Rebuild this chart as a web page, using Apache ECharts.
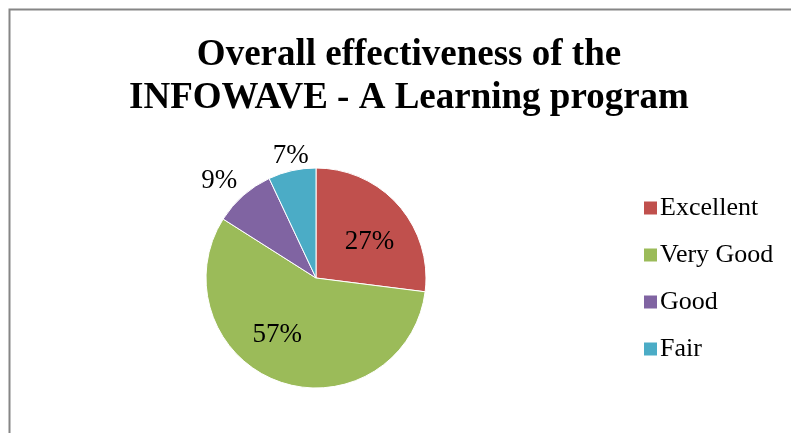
<!DOCTYPE html>
<html><head><meta charset="utf-8">
<script src="https://cdn.jsdelivr.net/npm/echarts@6/dist/echarts.min.js"></script>
<style>html,body{margin:0;padding:0;background:#fff}#c{width:791px;height:433px}</style>
</head><body><div id="c"></div>
<script>
const categories = ['Excellent', 'Very Good', 'Good', 'Fair'];
const values = [27, 57, 9, 7];
const colors = ['#C0504D', '#9BBB59', '#8064A2', '#4BACC6'];
const titleText = 'Overall effectiveness of the\nINFOWAVE - A Learning program';

const chart = echarts.init(document.getElementById('c'), null, {renderer: 'canvas'});
const labelPos = ['inside', 'inside', 'outside', 'outside'];
const labelOffset = [[10, 2], [-19, 2], [3, -10], [23, -9]];
const data = categories.map((name, i) => ({
  name, value: values[i],
  itemStyle: {color: colors[i]},
  label: {position: labelPos[i], offset: labelOffset[i]}
}));
chart.setOption({
  animation: false,
  graphic: [{
    type: 'rect', left: 7, top: 7,
    shape: {width: 820, height: 460},
    style: {fill: 'none', stroke: '#868686', lineWidth: 2}
  }],
  title: {
    text: titleText, left: 404, top: 29, textAlign: 'center',
    textStyle: {fontFamily: 'Liberation Serif', fontWeight: 'bold', fontSize: 37, lineHeight: 43, color: '#000'}
  },
  legend: {
    orient: 'vertical', left: 637, top: 190, itemGap: 21,
    itemWidth: 15, itemHeight: 15, icon: 'rect',
    textStyle: {fontFamily: 'Liberation Serif', fontSize: 26, color: '#000', padding: [0, 0, 0, -3]},
    data: categories
  },
  series: [{
    type: 'pie', center: [316, 278], radius: 110,
    startAngle: 90, clockwise: true, avoidLabelOverlap: false,
    itemStyle: {borderColor: '#fff', borderWidth: 1},
    label: {show: true, formatter: '{d}%', fontFamily: 'Liberation Serif', fontSize: 27, color: '#000'},
    labelLine: {show: false, length: 6, length2: 0},
    data
  }]
});
</script></body></html>
